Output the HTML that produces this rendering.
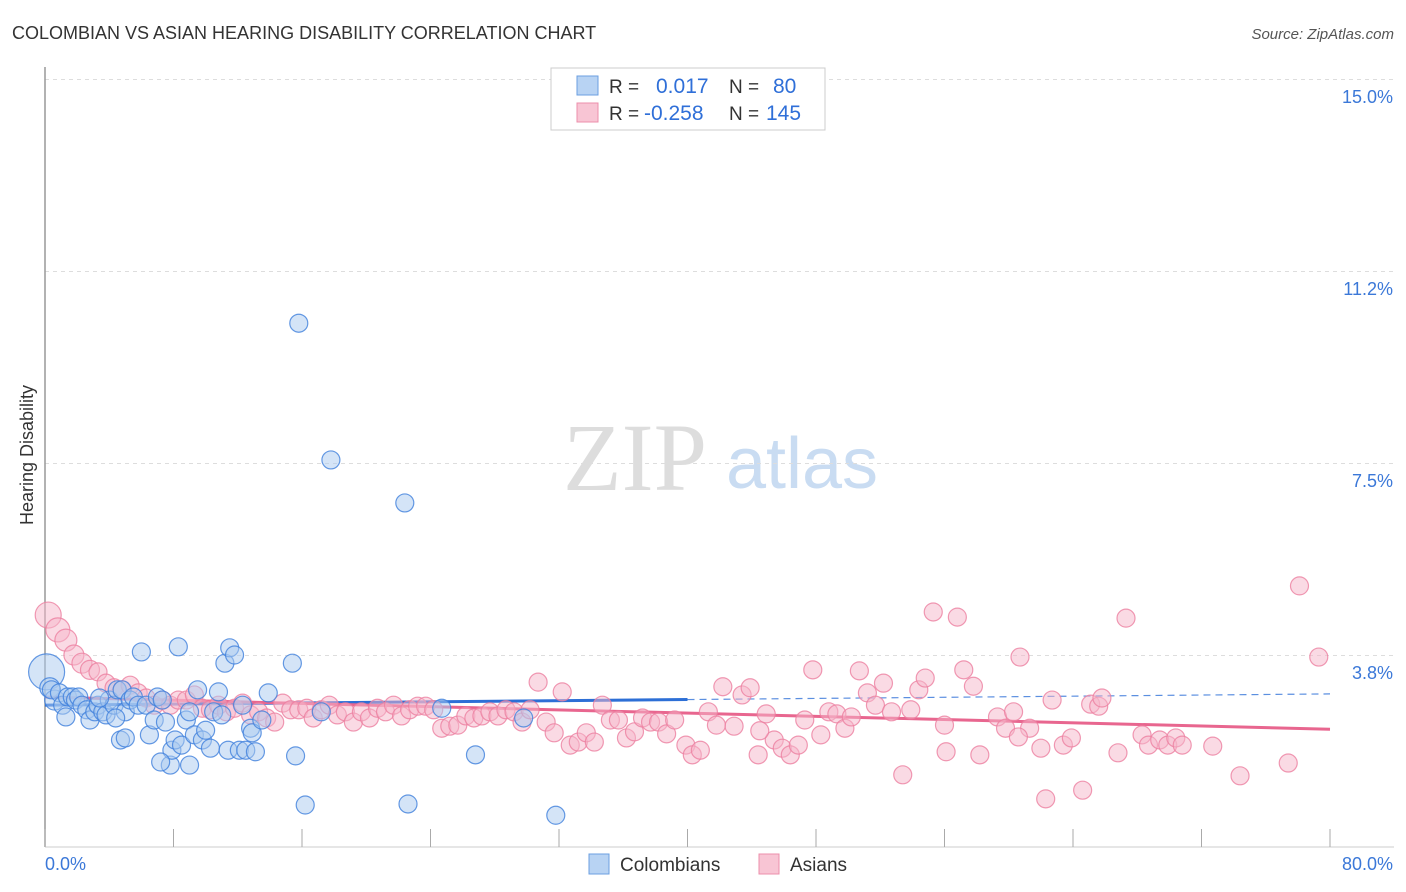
<!DOCTYPE html>
<html><head><meta charset="utf-8"><style>
body{margin:0;background:#fff;font-family:"Liberation Sans",sans-serif;}
svg{display:block}
</style></head><body>
<svg id="chart" width="1406" height="892" xmlns="http://www.w3.org/2000/svg">
<text x="12" y="39" font-size="18" fill="#333" font-family="Liberation Sans, sans-serif">COLOMBIAN VS ASIAN HEARING DISABILITY CORRELATION CHART</text>
<text x="1394" y="39" font-size="15" fill="#555" text-anchor="end" font-style="italic">Source: ZipAtlas.com</text>
<text transform="translate(33,455) rotate(-90)" font-size="18" fill="#333" text-anchor="middle">Hearing Disability</text>
<g>
<text x="635" y="490" font-size="96" fill="#ddd" text-anchor="middle" font-family="Liberation Serif, serif">ZIP</text>
<text x="802" y="488" font-size="72" fill="#c9dcf2" text-anchor="middle">atlas</text>
</g>
<g id="grid"></g><g id="axes"></g><g id="trend"></g><g id="pts"></g>
<g>
<rect x="551" y="68" width="274" height="62" fill="#fff" stroke="#ccc"/>
<rect x="577" y="76" width="21" height="19" fill="#b8d3f3" stroke="#6b9fe0"/>
<rect x="577" y="103" width="21" height="19" fill="#f8c5d4" stroke="#ec8fab"/>
<text x="609" y="93" font-size="19" fill="#333">R = </text><text x="656" y="93" font-size="21" fill="#2f6fd8">0.017</text>
<text x="729" y="93" font-size="19" fill="#333">N = </text><text x="773" y="93" font-size="21" fill="#2f6fd8">80</text>
<text x="609" y="120" font-size="19" fill="#333">R = </text><text x="644" y="120" font-size="21" fill="#2f6fd8">-0.258</text>
<text x="729" y="120" font-size="19" fill="#333">N = </text><text x="766" y="120" font-size="21" fill="#2f6fd8">145</text>
</g>
<g>
<rect x="589" y="854" width="20" height="20" fill="#b8d3f3" stroke="#6b9fe0"/>
<text x="620" y="871" font-size="19" fill="#333">Colombians</text>
<rect x="759" y="854" width="20" height="20" fill="#f8c5d4" stroke="#ec8fab"/>
<text x="790" y="871" font-size="19" fill="#333">Asians</text>
</g>
</svg>
<script>
const yTicks=[15.0,11.25,7.5,3.75];
const yTickLabels=["15.0%","11.2%","7.5%","3.8%"];
const xTicks=[0,8,16,24,32,40,48,56,64,72,80];
const xEndLabels=["0.0%","80.0%"];
const blueX=[0.1,0.3,0.6,0.4,0.9,1.1,1.3,1.4,1.7,1.9,2.1,2.3,2.6,2.8,3.1,3.3,3.6,3.8,4.0,4.3,4.5,4.8,5.0,5.3,5.5,5.8,6.0,6.3,6.5,6.8,7.0,7.3,7.5,7.8,7.9,8.1,8.3,8.5,8.8,9.0,9.3,9.5,9.8,10.0,10.3,10.5,10.8,11.0,11.2,11.4,11.5,11.8,12.1,12.3,12.5,12.8,12.9,13.1,13.5,13.9,15.4,15.6,15.8,16.2,17.2,17.8,22.4,22.6,24.7,26.8,29.8,31.8,4.7,5.0,7.2,9.0,4.4,3.4];
const blueY=[3.42,3.11,2.87,3.07,3.01,2.77,2.54,2.93,2.93,2.87,2.93,2.77,2.68,2.48,2.64,2.77,2.64,2.58,2.87,2.77,3.07,3.07,2.64,2.87,2.93,2.77,3.81,2.77,2.19,2.48,2.93,2.87,2.44,1.60,1.89,2.09,3.91,1.99,2.48,1.60,2.19,3.07,2.09,2.28,1.93,2.64,3.03,2.58,3.59,1.89,3.89,3.75,1.89,2.77,1.89,2.32,2.23,1.86,2.48,3.01,3.59,1.78,10.23,0.82,2.64,7.56,6.72,0.84,2.71,1.80,2.52,0.62,2.09,2.13,1.66,2.64,2.52,2.91];
const pinkX=[0.2,0.8,1.3,1.8,2.3,2.8,3.3,3.8,4.3,4.8,5.3,5.8,6.3,6.8,7.3,7.8,8.3,8.8,9.3,9.8,10.3,10.8,11.3,11.8,12.3,12.8,13.3,13.8,14.3,14.8,15.3,15.8,16.3,16.7,17.2,17.7,18.2,18.7,19.2,19.7,20.2,20.7,21.2,21.7,22.2,22.7,23.2,23.7,24.2,24.7,25.2,25.7,26.2,26.7,27.2,27.7,28.2,28.7,29.2,29.7,30.2,30.7,31.2,31.7,32.2,32.7,33.2,33.7,34.2,34.7,35.2,35.7,36.2,36.7,37.2,37.7,38.2,38.7,39.2,39.9,40.3,40.8,41.3,41.8,42.2,42.9,43.4,43.9,44.4,44.9,45.4,45.9,46.4,46.9,47.3,47.8,48.3,48.8,49.3,49.8,50.2,50.7,51.2,51.7,52.2,52.7,53.4,53.9,54.4,54.8,55.3,56.0,56.1,56.8,57.2,57.8,58.2,59.3,59.8,60.3,60.7,61.3,62.0,62.3,62.7,63.4,63.9,64.6,65.1,65.6,65.8,66.8,67.3,68.3,68.7,69.4,69.9,70.4,70.8,72.7,74.4,77.4,78.1,79.3,60.6,44.5];
const pinkY=[4.53,4.24,4.04,3.75,3.59,3.46,3.42,3.20,3.11,3.07,3.16,3.01,2.91,2.77,2.87,2.77,2.87,2.87,2.97,2.71,2.68,2.77,2.64,2.71,2.81,2.58,2.64,2.52,2.44,2.81,2.68,2.68,2.71,2.52,2.68,2.77,2.58,2.64,2.44,2.64,2.52,2.71,2.64,2.77,2.56,2.68,2.75,2.75,2.68,2.32,2.36,2.38,2.56,2.52,2.56,2.64,2.56,2.68,2.64,2.44,2.68,3.22,2.44,2.23,3.03,1.99,2.05,2.23,2.05,2.77,2.48,2.48,2.13,2.25,2.52,2.44,2.44,2.21,2.48,1.99,1.80,1.89,2.64,2.38,3.13,2.36,2.97,3.11,1.80,2.60,2.09,1.93,1.80,1.99,2.48,3.46,2.19,2.64,2.60,2.32,2.54,3.44,3.01,2.77,3.20,2.64,1.41,2.68,3.07,3.30,4.59,2.38,1.86,4.49,3.46,3.14,1.80,2.54,2.32,2.64,3.71,2.32,1.93,0.94,2.87,1.99,2.13,1.11,2.79,2.75,2.91,1.84,4.47,2.19,1.99,2.09,1.99,2.13,1.99,1.97,1.39,1.64,5.10,3.71,2.15,2.27];
const blueTrend=[2.77,2.99];   // value at x=0 and x=80
const pinkTrend=[2.93,2.30];
const NS="http://www.w3.org/2000/svg";
const X0=45,X1=1330,Y0=847;
const xs=v=>X0+(v/80)*(X1-X0);
const ys=v=>Y0-v*51.2;
function mk(tag,attrs,parent){const e=document.createElementNS(NS,tag);for(const k in attrs)e.setAttribute(k,attrs[k]);parent.appendChild(e);return e;}
const grid=document.getElementById('grid'),axes=document.getElementById('axes'),trend=document.getElementById('trend'),pts=document.getElementById('pts');
yTicks.forEach((t,i)=>{
 const l=mk('line',{x1:X0,x2:1394,y1:ys(t)+0.5,y2:ys(t)+0.5,stroke:'#ddd','stroke-dasharray':'4,4'},grid);
 
 
 const tx=mk('text',{x:1393,y:ys(t)+24,'font-size':18,fill:'#3b78d8','text-anchor':'end'},axes);
 tx.textContent=yTickLabels[i];
 
 
});
const ya=mk('line',{x1:X0,x2:X0,y1:67,y2:847,stroke:'#999','stroke-width':1.5},axes);


const xa=mk('line',{x1:X0,x2:1394,y1:847,y2:847,stroke:'#ccc'},axes);


xTicks.forEach(t=>{
 const l=mk('line',{x1:xs(t),x2:xs(t),y1:829,y2:847,stroke:'#aaa'},axes);
 
 
});
const xl0=mk('text',{x:45,y:870,'font-size':18,fill:'#3b78d8'},axes);xl0.textContent=xEndLabels[0];


const xl1=mk('text',{x:1393,y:870,'font-size':18,fill:'#3b78d8','text-anchor':'end'},axes);xl1.textContent=xEndLabels[1];


function drawPts(X,Y,fill,stroke,name,bigR){
 X.forEach((x,i)=>{
  const r=(bigR[i]||9);
  const c=mk('circle',{cx:xs(x),cy:ys(Y[i]),r:r,fill:fill,'fill-opacity':0.5,stroke:stroke,'stroke-width':1.2,'stroke-opacity':0.8},pts);
  
  
 });
}
drawPts(pinkX,pinkY,'#f6b6c9','#ec7fa0','asian-point',[13,12,11,10,10,9.5]);
drawPts(blueX,blueY,'#aac9f0','#3f7fdc','colombian-point',[18,10,10]);
const bt=v=>blueTrend[0]+(blueTrend[1]-blueTrend[0])*v/80;
const bs=mk('line',{x1:xs(0),y1:ys(bt(0)),x2:xs(40),y2:ys(bt(40)),stroke:'#2d6fd6','stroke-width':3},trend);


const bd=mk('line',{x1:xs(40),y1:ys(bt(40)),x2:xs(80),y2:ys(bt(80)),stroke:'#5b8fe0','stroke-width':1.2,'stroke-dasharray':'7,5'},trend);


const pt=mk('line',{x1:xs(0),y1:ys(pinkTrend[0]),x2:xs(80),y2:ys(pinkTrend[1]),stroke:'#e8668f','stroke-width':3},trend);


</script>
</body></html>
